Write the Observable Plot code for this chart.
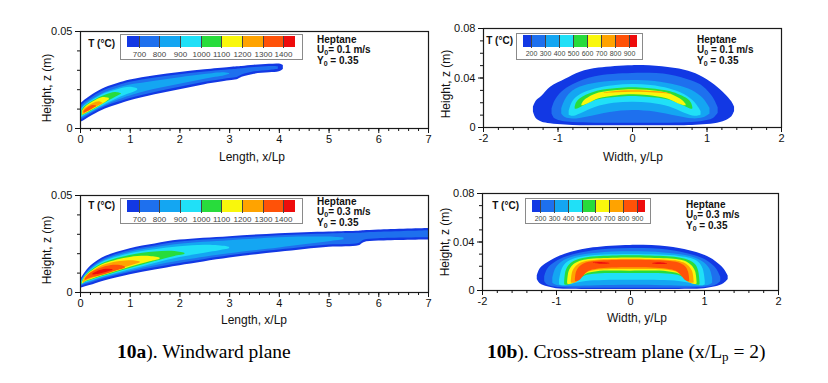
<!DOCTYPE html>
<html><head><meta charset="utf-8">
<script src="https://cdn.jsdelivr.net/npm/d3@7"></script>
<script src="https://cdn.jsdelivr.net/npm/@observablehq/plot@0.6"></script>
<style>
body{margin:0;background:#fff;}
#root{position:relative;width:828px;height:383px;overflow:hidden;background:#fff;font-family:'Liberation Sans',Arial,sans-serif;}
.abs{position:absolute;}
.ann{position:absolute;font-weight:bold;font-size:10px;line-height:10.5px;color:#111;white-space:nowrap;}
.ann sub{font-size:7px;vertical-align:-2px;line-height:0;}
.tlab{position:absolute;font-weight:bold;font-size:10px;line-height:12px;color:#111;white-space:nowrap;}
.lbox{position:absolute;border:1px solid #8a8a8a;box-sizing:border-box;background:#fff;}
.bar{position:absolute;overflow:hidden;}
.axt{position:absolute;font-size:12px;line-height:14px;color:#111;white-space:nowrap;transform:translate(-50%,-50%);}
.axt.rot{transform:translate(-50%,-50%) rotate(-90deg);}
.cap{position:absolute;font-family:'Liberation Serif','Times New Roman',serif;font-size:19.5px;line-height:22px;color:#000;white-space:nowrap;}
.cap sub{font-size:13px;vertical-align:-3px;line-height:0;}
</style>
</head><body>
<div id="root">
  <div class="abs" id="p1"></div>
  <div class="abs" id="p2"></div>
  <div class="abs" id="p3"></div>
  <div class="abs" id="p4"></div>

  <div class="axt" style="left:252px;top:157px;">Length, x/Lp</div>
  <div class="axt" style="left:254px;top:320px;">Length, x/Lp</div>
  <div class="axt" style="left:633px;top:157px;">Width, y/Lp</div>
  <div class="axt" style="left:637px;top:318px;">Width, y/Lp</div>
  <div class="axt rot" style="left:47px;top:88px;">Height, z (m)</div>
  <div class="axt rot" style="left:47px;top:250px;">Height, z (m)</div>
  <div class="axt rot" style="left:446px;top:84px;">Height, z (m)</div>
  <div class="axt rot" style="left:445px;top:242px;">Height, z (m)</div>

  <div class="lbox" style="left:120px;top:34px;width:183px;height:26px;"></div>
  <div class="lbox" style="left:120px;top:198px;width:183px;height:26px;"></div>
  <div class="lbox" style="left:516px;top:33px;width:127px;height:27px;"></div>
  <div class="lbox" style="left:525px;top:198px;width:126px;height:26px;"></div>
  <div class="bar" id="lg1" style="left:127px;top:36px;width:168px;height:23px;"></div>
  <div class="bar" id="lg3" style="left:127px;top:200px;width:168px;height:23px;"></div>
  <div class="bar" id="lg2" style="left:523px;top:35px;width:114px;height:24px;"></div>
  <div class="bar" id="lg4" style="left:532px;top:200px;width:113px;height:23px;"></div>

  <div class="tlab" style="right:713px;top:38px;">T (°C)</div>
  <div class="tlab" style="right:713px;top:200px;">T (°C)</div>
  <div class="tlab" style="right:315px;top:35px;">T (°C)</div>
  <div class="tlab" style="right:309px;top:200px;">T (°C)</div>

  <div class="ann" style="left:317px;top:34.5px;">Heptane<br>U<sub>0</sub>= 0.1 m/s<br>Y<sub>0</sub> = 0.35</div>
  <div class="ann" style="left:317px;top:196.5px;">Heptane<br>U<sub>0</sub>= 0.3 m/s<br>Y<sub>0</sub> = 0.35</div>
  <div class="ann" style="left:697px;top:34.5px;">Heptane<br>U<sub>0</sub> = 0.1 m/s<br>Y<sub>0</sub> = 0.35</div>
  <div class="ann" style="left:686px;top:199.5px;">Heptane<br>U<sub>0</sub>= 0.3 m/s<br>Y<sub>0</sub> = 0.35</div>

  <div class="cap" style="left:117px;top:341px;"><b>10a</b>). Windward plane</div>
  <div class="cap" style="left:487px;top:341px;"><b>10b</b>). Cross-stream plane (x/L<sub>p</sub> = 2)</div>
</div>
<script>
// ---- scales / ticks ----
const windLevels = [700, 800, 900, 1000, 1100, 1200, 1300, 1400];
const crossLevels = [200, 300, 400, 500, 600, 700, 800, 900];
const colors = ["#1238e4", "#1e70ee", "#14a6f2", "#20e0f7", "#28dc3c", "#f9f70c", "#ffa300", "#ff5208", "#ee0c0c"];
const xTicksLength = [0, 1, 2, 3, 4, 5, 6, 7];
const xTicksWidth = [-2, -1, 0, 1, 2];
const yTicksWind = [0, 0.05];
const yTicksCross = [0, 0.04, 0.08];

// ---- panel 1: windward, U0 = 0.1 m/s  rows: [x/Lp, z low, z high] ----
const w1_t0 = [[0,0.0030,0.0126],[0.1,0.0045,0.0148],[0.25,0.0068,0.0175],[0.5,0.0100,0.0210],[0.75,0.0123,0.0232],[1,0.0143,0.0250],[1.5,0.0174,0.0272],[2,0.0200,0.0289],[2.5,0.0226,0.0303],[3,0.0246,0.0315],[3.15,0.0251,0.0318],[3.25,0.0264,0.0320],[3.5,0.0280,0.0326],[3.8,0.0287,0.0331],[4,0.0292,0.0332],[4.08,0.0304,0.0325]];
const w1_t700 = [[0,0.0042,0.0114],[0.1,0.0057,0.0136],[0.25,0.0080,0.0163],[0.5,0.0112,0.0198],[0.75,0.0135,0.0220],[1,0.0155,0.0238],[1.5,0.0186,0.0260],[2,0.0212,0.0277],[2.5,0.0238,0.0291],[3,0.0258,0.0303],[3.15,0.0263,0.0306],[3.25,0.0276,0.0308],[3.5,0.0292,0.0314],[3.8,0.0299,0.0319],[3.98,0.0305,0.0318]];
const w1_t800 = [[0.01,0.0052,0.0104],[0.1,0.0064,0.0126],[0.25,0.0086,0.0152],[0.5,0.0118,0.0186],[0.75,0.0145,0.0208],[1,0.0168,0.0224],[1.5,0.0202,0.0244],[2,0.0228,0.0262],[2.5,0.0254,0.0278],[2.9,0.0272,0.0287],[3.0,0.0279,0.0283]];
const w1_t900 = [[0.02,0.0058,0.0098],[0.1,0.0069,0.0120],[0.25,0.0090,0.0146],[0.5,0.0124,0.0180],[0.75,0.0155,0.0200],[1.0,0.0180,0.0212],[1.15,0.0196,0.0204]];
const w1_t1000 = [[0.03,0.0064,0.0094],[0.1,0.0073,0.0115],[0.25,0.0094,0.0141],[0.5,0.0132,0.0172],[0.7,0.0160,0.0186],[0.82,0.0175,0.0180]];
const w1_t1100 = [[0.04,0.0068,0.0090],[0.1,0.0076,0.0110],[0.25,0.0097,0.0136],[0.45,0.0125,0.0160],[0.58,0.0148,0.0156]];
const w1_t1200 = [[0.05,0.0072,0.0087],[0.1,0.0079,0.0104],[0.25,0.0100,0.0128],[0.38,0.0118,0.0138],[0.45,0.0127,0.0131]];
const w1_t1300 = [[0.07,0.0079,0.0088],[0.15,0.0088,0.0106],[0.25,0.0102,0.0118],[0.32,0.0112,0.0116]];

// ---- panel 3: windward, U0 = 0.3 m/s ----
const w3_t0 = [[0,0.0022,0.0065],[0.1,0.0030,0.0105],[0.25,0.0040,0.0145],[0.5,0.0060,0.0185],[1,0.0091,0.0226],[1.5,0.0116,0.0250],[2,0.0138,0.0270],[3,0.0178,0.0288],[4,0.0207,0.0303],[5,0.0233,0.0312],[5.6,0.0241,0.0316],[5.7,0.0257,0.0318],[6,0.0265,0.0322],[7,0.0271,0.0330]];
const w3_t700 = [[0,0.0030,0.0058],[0.1,0.0040,0.0095],[0.25,0.0052,0.0135],[0.5,0.0072,0.0175],[1,0.0103,0.0216],[1.5,0.0128,0.0240],[2,0.0150,0.0260],[3,0.0190,0.0278],[4,0.0219,0.0293],[5,0.0245,0.0302],[5.6,0.0253,0.0305],[5.7,0.0269,0.0307],[6,0.0277,0.0310],[7,0.0282,0.0318]];
const w3_t800 = [[0.01,0.0036,0.0054],[0.1,0.0046,0.0090],[0.25,0.0058,0.0129],[0.5,0.0078,0.0168],[1,0.0110,0.0208],[1.5,0.0138,0.0231],[2,0.0162,0.0249],[3,0.0200,0.0267],[4,0.0230,0.0282],[4.5,0.0246,0.0286],[5,0.0262,0.0286],[5.3,0.0272,0.0281]];
const w3_t900 = [[0.02,0.0040,0.0052],[0.1,0.0050,0.0087],[0.25,0.0062,0.0124],[0.5,0.0082,0.0162],[1,0.0117,0.0200],[1.5,0.0150,0.0221],[2,0.0180,0.0236],[2.5,0.0202,0.0244],[2.9,0.0220,0.0238],[3.0,0.0226,0.0232]];
const w3_t1000 = [[0.03,0.0042,0.0051],[0.1,0.0053,0.0084],[0.25,0.0066,0.0119],[0.5,0.0086,0.0155],[1,0.0124,0.0191],[1.5,0.0160,0.0209],[1.9,0.0186,0.0211],[2.1,0.0196,0.0202]];
const w3_t1100 = [[0.04,0.0044,0.0050],[0.1,0.0056,0.0081],[0.25,0.0070,0.0114],[0.5,0.0090,0.0149],[1,0.0130,0.0181],[1.4,0.0158,0.0186],[1.6,0.0170,0.0178]];
const w3_t1200 = [[0.06,0.0047,0.0053],[0.1,0.0058,0.0078],[0.25,0.0074,0.0110],[0.5,0.0094,0.0143],[0.8,0.0119,0.0160],[1.1,0.0144,0.0163],[1.2,0.0152,0.0158]];
const w3_t1300 = [[0.1,0.0062,0.0070],[0.2,0.0073,0.0099],[0.4,0.0086,0.0124],[0.6,0.0101,0.0138],[0.8,0.0117,0.0139],[0.9,0.0124,0.0132]];
const w3_t1400 = [[0.25,0.0090,0.0096],[0.4,0.0096,0.0114],[0.55,0.0106,0.0120],[0.65,0.0114,0.0118]];

// ---- panel 2: cross-stream, U0 = 0.1 m/s  rows: [y/Lp, z low, z high] ----
const s2_t0 = [[-1.33,0.0125,0.0165],[-1.29,0.0070,0.0215],[-1.22,0.0045,0.0250],[-1.10,0.0030,0.0325],[-0.90,0.0020,0.0390],[-0.70,0.0015,0.0447],[-0.45,0.0015,0.0480],[0,0.0015,0.0500],[0.40,0.0015,0.0490],[0.70,0.0015,0.0462],[0.90,0.0020,0.0420],[1.10,0.0030,0.0345],[1.25,0.0055,0.0265],[1.33,0.0085,0.0210],[1.37,0.0130,0.0165]];
const s2_t200 = [[-1.08,0.0110,0.0150],[-1.04,0.0070,0.0215],[-0.95,0.0050,0.0285],[-0.80,0.0040,0.0345],[-0.50,0.0035,0.0410],[0,0.0035,0.0437],[0.50,0.0035,0.0425],[0.80,0.0040,0.0375],[0.95,0.0050,0.0330],[1.08,0.0070,0.0245],[1.15,0.0115,0.0160]];
const s2_t300 = [[-0.95,0.0110,0.0150],[-0.90,0.0080,0.0225],[-0.80,0.0068,0.0295],[-0.60,0.0085,0.0345],[-0.30,0.0122,0.0372],[0,0.0137,0.0380],[0.30,0.0125,0.0372],[0.60,0.0090,0.0340],[0.80,0.0070,0.0300],[0.95,0.0078,0.0235],[1.04,0.0110,0.0155]];
const s2_t400 = [[-0.85,0.0100,0.0130],[-0.80,0.0090,0.0210],[-0.70,0.0110,0.0265],[-0.50,0.0162,0.0312],[-0.25,0.0195,0.0338],[0,0.0205,0.0348],[0.25,0.0196,0.0340],[0.50,0.0165,0.0312],[0.70,0.0115,0.0265],[0.84,0.0090,0.0200],[0.92,0.0100,0.0130]];
const s2_t500 = [[-0.77,0.0150,0.0162],[-0.75,0.0148,0.0200],[-0.70,0.0160,0.0232],[-0.62,0.0184,0.0260],[-0.47,0.0222,0.0293],[-0.20,0.0244,0.0315],[0,0.0250,0.0321],[0.20,0.0244,0.0315],[0.50,0.0220,0.0290],[0.65,0.0184,0.0258],[0.74,0.0160,0.0230],[0.79,0.0148,0.0198],[0.81,0.0150,0.0162]];
const s2_t600 = [[-0.68,0.0176,0.0186],[-0.65,0.0178,0.0215],[-0.58,0.0196,0.0245],[-0.45,0.0232,0.0278],[-0.20,0.0256,0.0300],[0,0.0264,0.0306],[0.20,0.0258,0.0301],[0.45,0.0234,0.0280],[0.60,0.0196,0.0245],[0.68,0.0178,0.0214],[0.72,0.0176,0.0186]];
const s2_t700 = [[-0.38,0.0276,0.0279],[-0.20,0.0281,0.0292],[0,0.0284,0.0296],[0.20,0.0282,0.0293],[0.40,0.0274,0.0285],[0.52,0.0266,0.0270]];

// ---- panel 4: cross-stream, U0 = 0.3 m/s ----
const s4_t0 = [[-1.26,0.0090,0.0120],[-1.22,0.0055,0.0180],[-1.12,0.0030,0.0228],[-1.00,0.0015,0.0270],[-0.80,0.0010,0.0315],[-0.50,0.0008,0.0352],[0,0.0008,0.0372],[0.50,0.0008,0.0360],[0.80,0.0010,0.0328],[1.00,0.0015,0.0290],[1.15,0.0030,0.0240],[1.26,0.0055,0.0180],[1.32,0.0090,0.0120]];
const s4_t200 = [[-1.16,0.0075,0.0110],[-1.12,0.0045,0.0175],[-1.02,0.0028,0.0230],[-0.85,0.0020,0.0280],[-0.50,0.0018,0.0328],[0,0.0018,0.0347],[0.50,0.0018,0.0335],[0.85,0.0020,0.0290],[1.05,0.0028,0.0240],[1.16,0.0045,0.0180],[1.22,0.0075,0.0110]];
const s4_t300 = [[-1.05,0.0060,0.0100],[-1.01,0.0045,0.0180],[-0.92,0.0036,0.0238],[-0.75,0.0036,0.0280],[-0.45,0.0040,0.0308],[0,0.0044,0.0319],[0.45,0.0040,0.0310],[0.78,0.0036,0.0284],[0.97,0.0036,0.0240],[1.07,0.0045,0.0180],[1.11,0.0060,0.0100]];
const s4_t400 = [[-0.96,0.0045,0.0080],[-0.92,0.0040,0.0180],[-0.85,0.0042,0.0232],[-0.75,0.0058,0.0262],[-0.60,0.0075,0.0280],[-0.35,0.0083,0.0292],[0,0.0085,0.0297],[0.40,0.0083,0.0292],[0.66,0.0075,0.0281],[0.82,0.0058,0.0263],[0.92,0.0042,0.0232],[0.98,0.0040,0.0180],[1.01,0.0045,0.0080]];
const s4_t500 = [[-0.89,0.0048,0.0068],[-0.87,0.0044,0.0160],[-0.82,0.0048,0.0212],[-0.74,0.0072,0.0245],[-0.62,0.0118,0.0266],[-0.45,0.0136,0.0278],[0,0.0140,0.0286],[0.50,0.0136,0.0278],[0.68,0.0118,0.0266],[0.80,0.0072,0.0245],[0.88,0.0048,0.0212],[0.92,0.0044,0.0160],[0.94,0.0048,0.0068]];
const s4_t600 = [[-0.85,0.0054,0.0068],[-0.83,0.0050,0.0155],[-0.78,0.0055,0.0205],[-0.70,0.0088,0.0236],[-0.60,0.0134,0.0252],[-0.45,0.0155,0.0261],[0,0.0159,0.0269],[0.50,0.0155,0.0261],[0.66,0.0134,0.0252],[0.76,0.0088,0.0236],[0.83,0.0055,0.0205],[0.88,0.0050,0.0155],[0.90,0.0054,0.0068]];
const s4_t700 = [[-0.80,0.0062,0.0074],[-0.78,0.0059,0.0155],[-0.73,0.0066,0.0200],[-0.66,0.0105,0.0228],[-0.58,0.0146,0.0242],[-0.45,0.0166,0.0250],[0,0.0173,0.0258],[0.50,0.0166,0.0250],[0.64,0.0146,0.0242],[0.72,0.0105,0.0228],[0.79,0.0066,0.0200],[0.84,0.0059,0.0155],[0.86,0.0062,0.0074]];
const s4_t800 = [[-0.745,0.0076,0.0086],[-0.73,0.0072,0.0150],[-0.69,0.0080,0.0192],[-0.63,0.0120,0.0218],[-0.56,0.0158,0.0232],[-0.45,0.0176,0.0242],[0,0.0187,0.0250],[0.50,0.0176,0.0242],[0.62,0.0158,0.0232],[0.69,0.0120,0.0218],[0.75,0.0080,0.0192],[0.785,0.0072,0.0150],[0.80,0.0076,0.0086]];
const s4_t900a = [[-0.50,0.0222,0.0225],[-0.40,0.0216,0.0230],[-0.28,0.0219,0.0223]];
const s4_t900b = [[0.30,0.0219,0.0223],[0.40,0.0214,0.0229],[0.50,0.0217,0.0221]];

// band value -> colour through the threshold scale (outer band is below the first threshold)
const bands1 = [[650, w1_t0],[700, w1_t700],[800, w1_t800],[900, w1_t900],[1000, w1_t1000],[1100, w1_t1100],[1200, w1_t1200],[1300, w1_t1300]];
const bands3 = [[650, w3_t0],[700, w3_t700],[800, w3_t800],[900, w3_t900],[1000, w3_t1000],[1100, w3_t1100],[1200, w3_t1200],[1300, w3_t1300],[1400, w3_t1400]];
const bands2 = [[150, s2_t0],[200, s2_t200],[300, s2_t300],[400, s2_t400],[500, s2_t500],[600, s2_t600],[700, s2_t700]];
const bands4 = [[150, s4_t0],[200, s4_t200],[300, s4_t300],[400, s4_t400],[500, s4_t500],[600, s4_t600],[700, s4_t700],[800, s4_t800],[900, s4_t900a],[900, s4_t900b]];

const font = "'Liberation Sans', Arial, sans-serif";

function panel(bands, o) {
  return Plot.plot({
    width: o.w, height: o.h,
    marginLeft: o.ml, marginRight: o.mr, marginTop: o.mt, marginBottom: o.mb,
    x: {domain: o.xd},
    y: {domain: o.yd},
    color: {type: "threshold", domain: o.levels, range: colors},
    style: {fontFamily: font, fontSize: "11px", color: "#111", background: "transparent", overflow: "visible"},
    marks: [
      ...bands.map(([lvl, pts]) => Plot.areaY(pts, {x: d => d[0], y1: d => d[1], y2: d => d[2], fill: () => lvl, curve: "catmull-rom"})),
      Plot.frame({stroke: "#1a1a1a", strokeWidth: 1.2}),
      Plot.axisX({ticks: o.xMinor, tickSize: 3, tickFormat: () => "", label: null}),
      Plot.axisX({ticks: o.xMajor, tickSize: 5, tickPadding: 2, tickFormat: d => String(d), label: null}),
      Plot.axisY({ticks: o.yMinor, tickSize: 3, tickFormat: () => "", label: null}),
      Plot.axisY({ticks: o.yMajor, tickSize: 5, tickPadding: 3, tickFormat: d => String(d), label: null})
    ]
  });
}

function place(id, el, left, top) {
  const d = document.getElementById(id);
  d.style.left = left + "px"; d.style.top = top + "px";
  d.appendChild(el);
}

const windMinorX = d3.range(0, 7.0001, 0.2);
const windMinorY = d3.range(0, 0.0501, 0.01);
const crossMinorX = d3.range(-2, 2.0001, 0.2);
const crossMinorY = d3.range(0, 0.0801, 0.01);

place("p1", panel(bands1, {w: 410, h: 150, ml: 50, mr: 12, mt: 11, mb: 42, xd: [0, 7], yd: [0, 0.05], levels: windLevels, xMajor: xTicksLength, xMinor: windMinorX, yMajor: yTicksWind, yMinor: windMinorY}), 30, 20);
place("p3", panel(bands3, {w: 410, h: 150, ml: 50, mr: 12, mt: 10, mb: 43, xd: [0, 7], yd: [0, 0.05], levels: windLevels, xMajor: xTicksLength, xMinor: windMinorX, yMajor: yTicksWind, yMinor: windMinorY}), 30, 185);
place("p2", panel(bands2, {w: 360, h: 150, ml: 50, mr: 12, mt: 10, mb: 41, xd: [-2, 2], yd: [0, 0.08], levels: crossLevels, xMajor: xTicksWidth, xMinor: crossMinorX, yMajor: yTicksCross, yMinor: crossMinorY}), 433, 18);
place("p4", panel(bands4, {w: 360, h: 150, ml: 50, mr: 14, mt: 10, mb: 43, xd: [-2, 2], yd: [0, 0.08], levels: crossLevels, xMajor: xTicksWidth, xMinor: crossMinorX, yMajor: yTicksCross, yMinor: crossMinorY}), 432, 183);

function legend(levels, o) {
  return Plot.legend({
    color: {type: "threshold", domain: levels, range: colors},
    label: null,
    width: o.w, height: o.h,
    marginTop: 0, marginBottom: o.h - o.barH,
    marginLeft: -o.m, marginRight: -o.m,
    tickSize: 1,
    style: {fontFamily: font, fontSize: o.fs + "px", color: "#444", background: "transparent"}
  });
}
document.getElementById("lg1").appendChild(legend(windLevels, {w: 168, h: 23, barH: 11, m: 9, fs: 8}));
document.getElementById("lg3").appendChild(legend(windLevels, {w: 168, h: 23, barH: 12, m: 9, fs: 8}));
document.getElementById("lg2").appendChild(legend(crossLevels, {w: 114, h: 24, barH: 12, m: 6, fs: 7}));
document.getElementById("lg4").appendChild(legend(crossLevels, {w: 113, h: 23, barH: 12, m: 6, fs: 7}));
</script>
</body></html>
